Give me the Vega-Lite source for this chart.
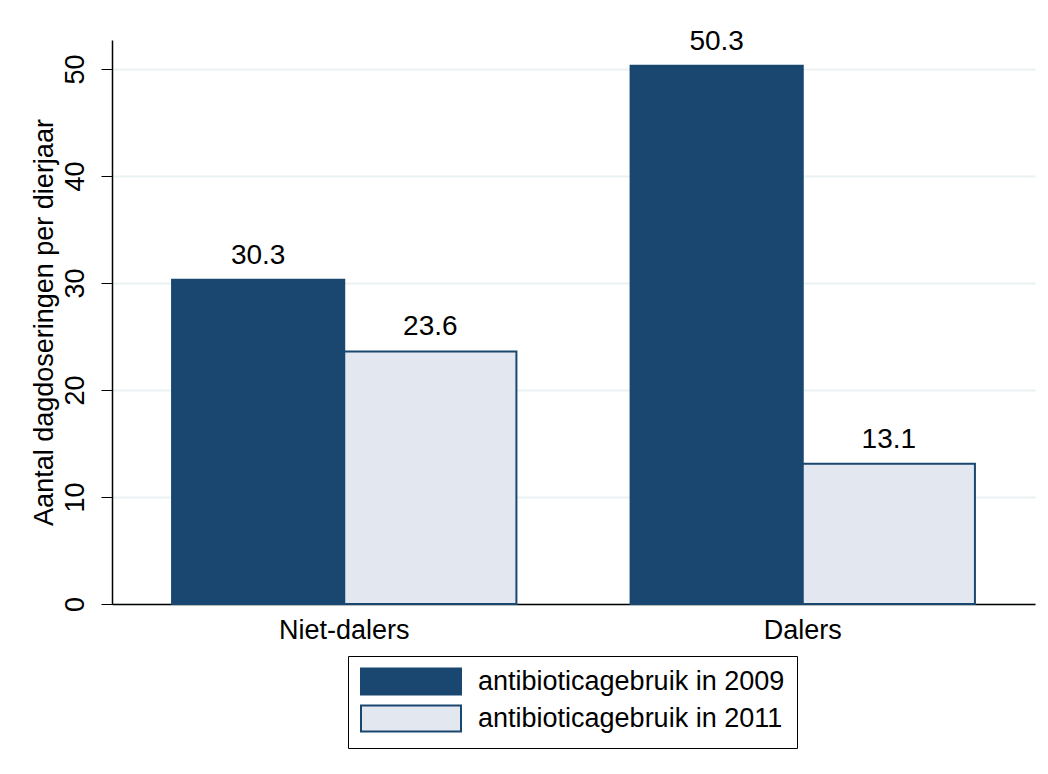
{
  "$schema": "https://vega.github.io/schema/vega-lite/v6.json",
  "width": 923,
  "height": 564,
  "autosize": {"type": "none"},
  "padding": {"left": 112, "top": 40, "right": 13, "bottom": 170},
  "background": "white",
  "config": {
    "font": "Liberation Sans",
    "view": {"stroke": null}
  },
  "data": {
    "values": [
      {"groep": "Niet-dalers", "jaar": "antibioticagebruik in 2009", "waarde": 30.3},
      {"groep": "Niet-dalers", "jaar": "antibioticagebruik in 2011", "waarde": 23.6},
      {"groep": "Dalers", "jaar": "antibioticagebruik in 2009", "waarde": 50.3},
      {"groep": "Dalers", "jaar": "antibioticagebruik in 2011", "waarde": 13.1}
    ]
  },
  "encoding": {
    "x": {
      "field": "groep",
      "type": "nominal",
      "sort": ["Niet-dalers", "Dalers"],
      "scale": {"paddingInner": 0.249, "paddingOuter": 0.131},
      "axis": {
        "title": null,
        "labelAngle": 0,
        "ticks": false,
        "labelFontSize": 27,
        "labelPadding": 13,
        "labelColor": "#000",
        "domainColor": "#000",
        "domainWidth": 1.5
      }
    },
    "xOffset": {
      "field": "jaar",
      "type": "nominal",
      "scale": {"paddingInner": 0, "paddingOuter": 0}
    },
    "y": {
      "field": "waarde",
      "type": "quantitative",
      "scale": {"domain": [0, 52.7], "nice": false, "zero": true},
      "axis": {
        "title": "Aantal dagdoseringen per dierjaar",
        "titleFontSize": 27,
        "titleFontWeight": "normal",
        "titleColor": "#000",
        "titlePadding": 3,
        "values": [0, 10, 20, 30, 40, 50],
        "labelAngle": -90,
        "labelAlign": "center",
        "labelBaseline": "bottom",
        "labelFontSize": 27,
        "labelColor": "#000",
        "labelPadding": 12,
        "tickSize": 11,
        "tickColor": "#000",
        "domainColor": "#000",
        "domainWidth": 1.5,
        "gridColor": "#eaf2f3",
        "gridWidth": 2
      }
    }
  },
  "layer": [
    {
      "mark": {"type": "bar", "stroke": "#1a476f", "strokeWidth": 2},
      "encoding": {
        "color": {
          "field": "jaar",
          "type": "nominal",
          "scale": {"range": ["#1a476f", "#e3e7f0"]},
          "legend": {
            "orient": "none",
            "legendX": 236,
            "legendY": 616,
            "title": null,
            "direction": "vertical",
            "symbolType": "M-1,-1.04H7V1.04H-1Z",
            "symbolSize": 625,
            "symbolStrokeColor": "#1a476f",
            "symbolStrokeWidth": 2,
            "symbolOpacity": 1,
            "labelFontSize": 27,
            "labelColor": "#000",
            "labelLimit": 500,
            "labelOffset": 91,
            "strokeColor": "#000",
            "fillColor": "white",
            "padding": 12,
            "rowPadding": 2
          }
        }
      }
    },
    {
      "mark": {"type": "text", "baseline": "alphabetic", "dy": -16, "fontSize": 28, "color": "#000"},
      "encoding": {
        "text": {"field": "waarde", "type": "quantitative", "format": ".1f"}
      }
    }
  ]
}
